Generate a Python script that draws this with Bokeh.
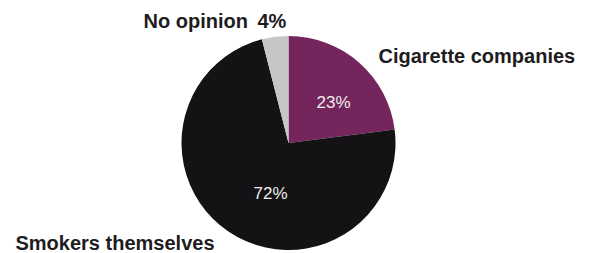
import math
from bokeh.plotting import figure
from bokeh.models import ColumnDataSource, Range1d
from bokeh.core.properties import value
from bokeh.embed import file_html
from bokeh.resources import INLINE

categories = ["Cigarette companies", "Smokers themselves", "No opinion"]
percents = [23, 72, 4]
pct_labels = ["23%", "72%", "4%"]
colors = ["#74255c", "#151216", "#c6c6c6"]

W, H = 591, 253
p = figure(width=W, height=H, output_backend="svg", toolbar_location=None,
           x_range=Range1d(0, W), y_range=Range1d(0, H), min_border=0)
p.axis.visible = False
p.grid.visible = False
p.outline_line_color = None
p.background_fill_color = "white"
p.border_fill_color = "white"

# Magenta slice runs clockwise from 12 o'clock, grey slice anticlockwise from
# 12 o'clock, black slice fills the remainder (percentages out of 100).
top = math.pi / 2
deg = lambda v: v / 100 * 2 * math.pi
c_end = top - deg(percents[0])
g_start = top + deg(percents[2])
starts = [top, c_end, g_start]
ends = [c_end, g_start - 2 * math.pi, top]

src = ColumnDataSource(dict(cat=categories, start=starts, end=ends, color=colors))
cx, cy, r = 288, 110.5, 107
p.wedge(x=cx, y=cy, radius=r, start_angle="start", end_angle="end",
        direction="clock", fill_color="color", line_color=None, source=src)

font = value("Liberation Sans")
dark = "#1e1c1e"
lab = dict(text_font=font, text_font_size="20px", text_font_style="bold",
           text_color=dark, text_baseline="middle", text_align="left")
p.text(x=[143, 257], y=[233, 233], text=[categories[2], pct_labels[2]], **lab)
p.text(x=[378], y=[198], text=[categories[0]], **lab)
p.text(x=[15], y=[11], text=[categories[1]], **lab)
p.text(x=[333, 270], y=[151, 60], text=[pct_labels[0], pct_labels[1]], text_font=font,
       text_font_size="17px", text_color="#eeeeee",
       text_baseline="middle", text_align="center")

open("out.html", "w").write(file_html(p, INLINE))
